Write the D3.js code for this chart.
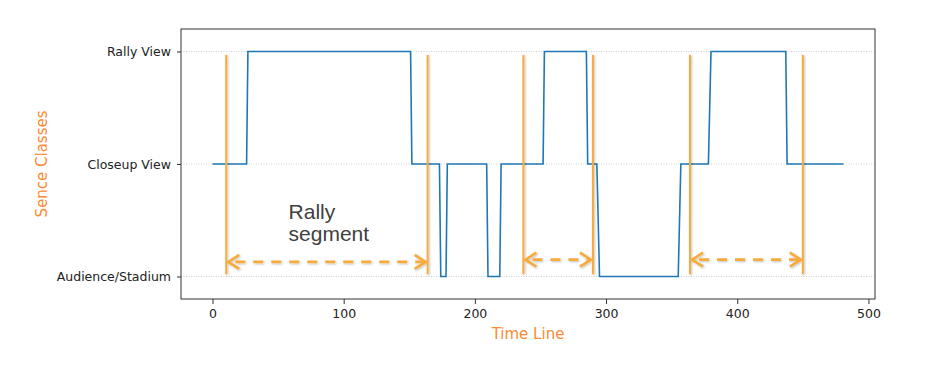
<!DOCTYPE html>
<html>
<head>
<meta charset="utf-8">
<script src="https://cdn.jsdelivr.net/npm/d3@7"></script>
<style>
  body { margin: 0; background: #fff; }
  .tick text { font-family: "DejaVu Sans", sans-serif; font-size: 12.5px; fill: #222; }
</style>
</head>
<body>
<div id="chart"></div>
<script>
// Data
var classes = ["Audience/Stadium", "Closeup View", "Rally View"];
var times   = [0, 26, 27, 151, 152, 173, 174, 178, 179, 209, 210, 219, 220, 252, 253, 285, 286, 293, 295, 355, 357, 378, 380, 437, 438, 481];
var states  = [1, 1, 2, 2, 1, 1, 0, 0, 1, 1, 0, 0, 1, 1, 2, 2, 1, 1, 0, 0, 1, 1, 2, 2, 1, 1];
var xTicks  = [0, 100, 200, 300, 400, 500];

// rally segments (start, end) and arrow level
var segStart = [10.5, 237, 364];
var segEnd   = [164, 290, 450];
var segArrowY = [0.13, 0.15, 0.15];
var noteLines = ["Rally", "segment"];

// Layout
var width = 927, height = 370;
var margin = {left: 181, top: 29, right: 52, bottom: 71};
var w = width - margin.left - margin.right,
    h = height - margin.top - margin.bottom;

var svg = d3.select("#chart").append("svg")
    .attr("width", width)
    .attr("height", height);

var defs = svg.append("defs");
var shadow = defs.append("filter").attr("id", "shadow")
    .attr("x", "-50%").attr("y", "-10%").attr("width", "200%").attr("height", "120%");
shadow.append("feDropShadow")
    .attr("dx", 1).attr("dy", 1).attr("stdDeviation", 1)
    .attr("flood-color", "#000").attr("flood-opacity", 0.25);

var g = svg.append("g").attr("transform", "translate(" + margin.left + "," + margin.top + ")");

var x = d3.scaleLinear().domain([-24, 505]).range([0, w]);
var y = d3.scaleLinear().domain([-0.2, 2.2]).range([h, 0]);

// grid
g.selectAll(".grid")
    .data(d3.range(classes.length))
    .enter().append("line")
    .attr("x1", 0).attr("x2", w)
    .attr("y1", d => y(d)).attr("y2", d => y(d))
    .attr("stroke", "#c4c4c4")
    .attr("stroke-width", 0.8)
    .attr("stroke-dasharray", "1,1.5");

// the scene line
var pts = times.map((t, i) => [t, states[i]]);
var line = d3.line().x(d => x(d[0])).y(d => y(d[1]));
g.append("path")
    .datum(pts)
    .attr("d", line)
    .attr("fill", "none")
    .attr("stroke", "#1f77b4")
    .attr("stroke-width", 1.6);

// axes
var xAxis = d3.axisBottom(x).tickValues(xTicks).tickSize(5).tickPadding(5);
var yAxis = d3.axisLeft(y).tickValues(d3.range(classes.length))
    .tickFormat(d => classes[d]).tickSize(4).tickPadding(6);

var gx = g.append("g").attr("transform", "translate(0," + h + ")").call(xAxis);
var gy = g.append("g").call(yAxis);
[gx, gy].forEach(a => {
  a.select(".domain").remove();
  a.selectAll(".tick line").attr("stroke", "#333");
});

// frame
g.append("rect")
    .attr("width", w).attr("height", h)
    .attr("fill", "none")
    .attr("stroke", "#333")
    .attr("stroke-width", 1);

// axis labels
svg.append("text")
    .attr("x", margin.left + w / 2)
    .attr("y", 339)
    .attr("text-anchor", "middle")
    .attr("font-family", "DejaVu Sans, sans-serif")
    .attr("font-size", 15)
    .attr("fill", "#fd8a35")
    .text("Time Line");

svg.append("text")
    .attr("transform", "translate(47," + (margin.top + y(1)) + ") rotate(-90)")
    .attr("text-anchor", "middle")
    .attr("font-family", "DejaVu Sans, sans-serif")
    .attr("font-size", 15)
    .attr("fill", "#fd8a35")
    .text("Sence Classes");

// annotations
var orange = "#f7ab3c";
var ann = g.append("g").attr("filter", "url(#shadow)");
segStart.forEach((s, i) => {
  var e = segEnd[i];
  [s, e].forEach(t => {
    ann.append("line")
      .attr("x1", x(t)).attr("x2", x(t))
      .attr("y1", y(1.97)).attr("y2", y(0.02))
      .attr("stroke", orange).attr("stroke-width", 2);
  });
  var ay = y(segArrowY[i]);
  ann.append("line")
    .attr("x1", x(s) + 3).attr("x2", x(e) - 3)
    .attr("y1", ay).attr("y2", ay)
    .attr("stroke", orange).attr("stroke-width", 2.6)
    .attr("stroke-dasharray", "10,8")
    .attr("stroke-dashoffset", -6);
  ann.append("path")
    .attr("d", "M" + (x(s) + 13) + "," + (ay - 7) + "L" + (x(s) + 2) + "," + ay + "L" + (x(s) + 13) + "," + (ay + 7))
    .attr("fill", "none").attr("stroke", orange).attr("stroke-width", 2.6);
  ann.append("path")
    .attr("d", "M" + (x(e) - 13) + "," + (ay - 7) + "L" + (x(e) - 2) + "," + ay + "L" + (x(e) - 13) + "," + (ay + 7))
    .attr("fill", "none").attr("stroke", orange).attr("stroke-width", 2.6);
});

var note = g.append("text")
    .attr("font-family", "Liberation Sans, Arial, sans-serif")
    .attr("font-size", 21)
    .attr("fill", "#404040");
noteLines.forEach((t, i) => {
  note.append("tspan")
    .attr("x", x(58))
    .attr("y", y(0.51) + i * 22)
    .text(t);
});
</script>
</body>
</html>
